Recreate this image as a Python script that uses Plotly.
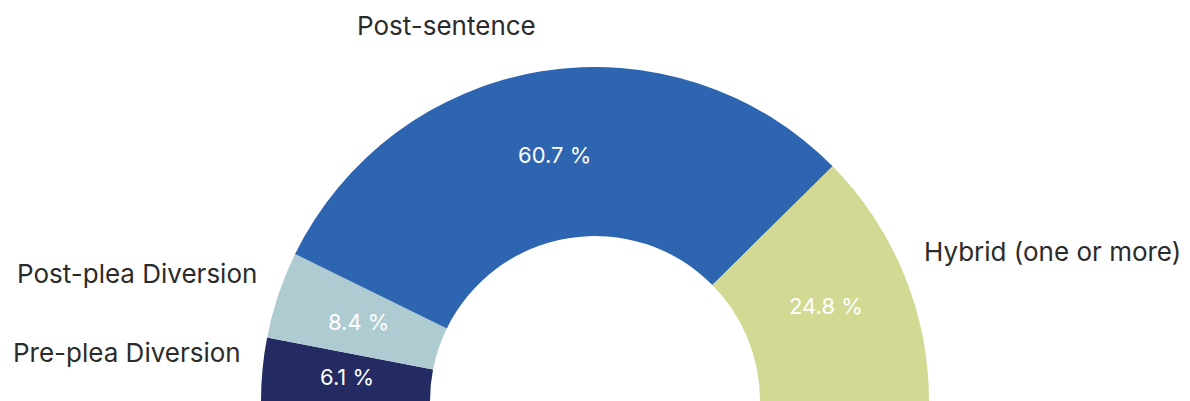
import math
import plotly.graph_objects as go

categories = ["Pre-plea Diversion", "Post-plea Diversion", "Post-sentence", "Hybrid (one or more)"]
values = [6.1, 8.4, 60.7, 24.8]
colors = ["#232b62", "#afcbd2", "#2d65b0", "#d2d993"]

font_family = "Inter, Roboto, sans-serif"

W, H = 1190, 802
MT = MB = 67
PLOT_H = H - MT - MB           # pie domain height -> ring outer radius = PLOT_H/2
HOLE = 0.494
R_OUT = PLOT_H / 2
R_MID = R_OUT * (1 + HOLE) / 2
R_LAB = 354

total = sum(values)
all_values = values + [total]   # transparent lower half

fig = go.Figure()
fig.add_trace(go.Pie(
    values=all_values,
    labels=categories + ["hidden"],
    textinfo="none",
    marker=dict(colors=colors + ["rgba(0,0,0,0)"], line=dict(width=0)),
    hole=HOLE,
    sort=False,
    direction="clockwise",
    rotation=-90,
    showlegend=False,
    hoverinfo="skip",
))

annotations = []
cum = 0.0
for cat, v in zip(categories, values):
    frac = (cum + v / 2) / total
    cum += v
    ang = math.radians(frac * 180.0)      # measured from the left, clockwise over the top
    ux, uy = -math.cos(ang), math.sin(ang)
    # percentage inside the ring
    annotations.append(dict(
        xref="paper", yref="paper",
        x=0.5 + R_MID * ux / W, y=0.5 + R_MID * uy / PLOT_H,
        text=f"{v} %", showarrow=False,
        xanchor="center", yanchor="middle",
        font=dict(color="white", size=22, family=font_family),
    ))
    # category label outside the ring
    top = uy > 0.9
    annotations.append(dict(
        xref="paper", yref="paper",
        x=0.5 + R_LAB * ux / W, y=0.5 + R_LAB * uy / PLOT_H,
        text=cat, showarrow=False,
        xanchor="left" if ux > 0 else "right",
        yanchor="bottom" if top else "middle",
        yshift=9 if top else 15,
        font=dict(color="#2b2b2b", size=26, family=font_family),
    ))

fig.update_layout(
    width=W, height=H,
    margin=dict(l=0, r=0, t=MT, b=MB),
    paper_bgcolor="white",
    plot_bgcolor="white",
    annotations=annotations,
)
fig.write_html("out.html", post_script="document.body.style.overflow='hidden';document.body.style.margin='0';")
